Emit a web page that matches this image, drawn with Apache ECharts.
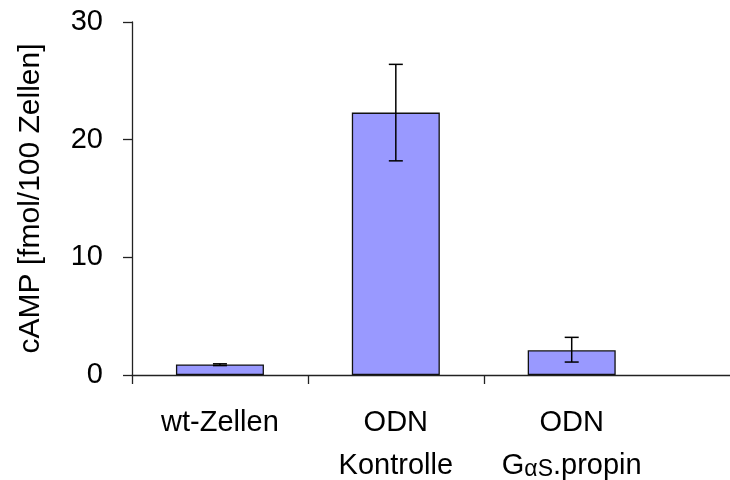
<!DOCTYPE html>
<html>
<head>
<meta charset="utf-8">
<script src="https://cdn.jsdelivr.net/npm/echarts@6/dist/echarts.min.js"></script>
<style>html,body{margin:0;padding:0;background:#fff}#c{width:730px;height:480px}</style>
</head>
<body>
<div id="c"></div>
<script>
var categories = ['wt-Zellen', 'ODN\nKontrolle', 'ODN\nG{s|αS}.propin'];
var values = [0.9, 22.3, 2.1];
var errLow = [0.8, 18.2, 1.1];
var errHigh = [0.95, 26.4, 3.2];
var yTicks = [0, 10, 20, 30];

var FONT = '"Liberation Sans", Arial, sans-serif';
var chart = echarts.init(document.getElementById('c'), null, {renderer: 'canvas'});

var barData = values.map(function (v, i) { return [i + 0.5, v]; });
var errData = values.map(function (v, i) { return [i + 0.5, errLow[i], errHigh[i]]; });

chart.setOption({
  animation: false,
  backgroundColor: '#fff',
  grid: {left: 132, right: 0, top: 22, bottom: 105, containLabel: false, outerBoundsMode: 'none'},
  xAxis: {
    type: 'value', min: 0, max: 3.4,
    splitLine: {show: false},
    axisLine: {show: true, lineStyle: {color: '#222', width: 1.3}},
    axisTick: {show: true, customValues: [0, 1, 2], length: 9, inside: false, lineStyle: {color: '#222', width: 1.3}},
    axisLabel: {
      customValues: [0.5, 1.5, 2.5],
      margin: 26,
      color: '#000', fontFamily: FONT, fontSize: 29, lineHeight: 43,
      formatter: function (v) { return categories[Math.floor(v)]; },
      rich: {s: {fontSize: 23, fontFamily: FONT, color: '#000', padding: [8, 0, 0, 0]}}
    }
  },
  yAxis: {
    type: 'value', min: yTicks[0], max: yTicks[yTicks.length - 1], interval: 10,
    name: 'cAMP [fmol/100 Zellen]', nameLocation: 'middle', nameGap: 86,
    nameTextStyle: {color: '#000', fontFamily: FONT, fontSize: 30},
    splitLine: {show: false},
    axisLine: {show: true, lineStyle: {color: '#222', width: 1.3}},
    axisTick: {show: true, length: 9, inside: false, lineStyle: {color: '#222', width: 1.3}},
    axisLabel: {margin: 29, color: '#000', fontFamily: FONT, fontSize: 29}
  },
  series: [
    {
      type: 'bar', data: barData, barWidth: 88,
      itemStyle: {color: '#9999FF', borderColor: '#111', borderWidth: 1.3}
    },
    {
      type: 'custom', data: errData, z: 10,
      renderItem: function (params, api) {
        var x = api.value(0);
        var lo = api.coord([x, api.value(1)]);
        var hi = api.coord([x, api.value(2)]);
        var w = 7;
        var st = {stroke: '#000', lineWidth: 1.5};
        return {type: 'group', children: [
          {type: 'line', shape: {x1: lo[0], y1: lo[1], x2: hi[0], y2: hi[1]}, style: st},
          {type: 'line', shape: {x1: lo[0] - w, y1: lo[1], x2: lo[0] + w, y2: lo[1]}, style: st},
          {type: 'line', shape: {x1: hi[0] - w, y1: hi[1], x2: hi[0] + w, y2: hi[1]}, style: st}
        ]};
      }
    }
  ]
});
</script>
</body>
</html>
